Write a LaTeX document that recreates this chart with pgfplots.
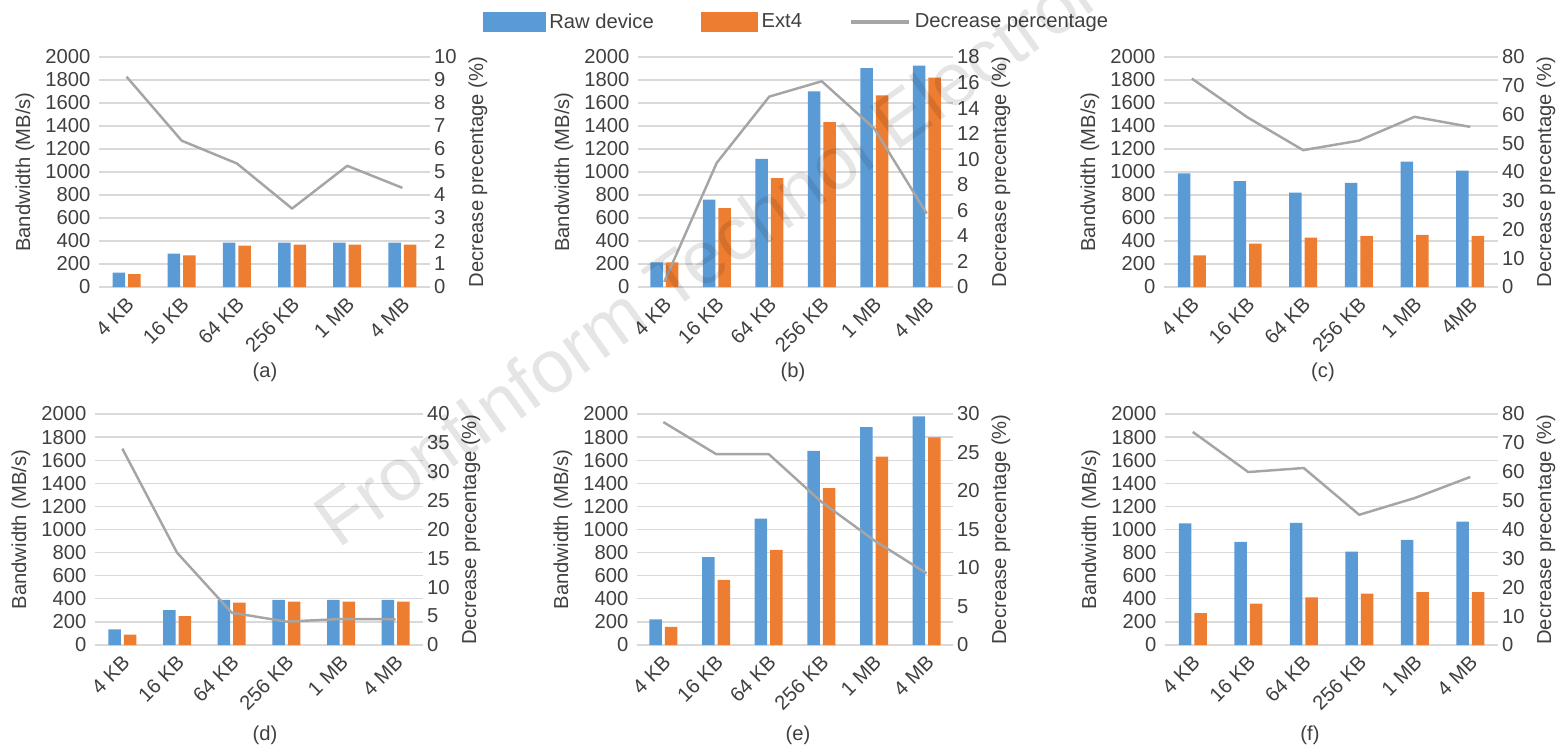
\documentclass[border=0pt]{standalone}
\usepackage{fontspec}
\setmainfont{Liberation Sans}
\usepackage{pgfplots}
\pgfplotsset{compat=1.18}
\usetikzlibrary{calc}
\definecolor{rawc}{HTML}{5B9BD5}
\definecolor{extc}{HTML}{ED7D31}
\definecolor{pctc}{HTML}{A5A5A5}
\definecolor{gridc}{HTML}{D9D9D9}
\definecolor{txtc}{HTML}{404040}
\newcommand{\fs}{\fontsize{11.5}{13.8}\selectfont}
\pgfplotsset{
 common/.style={scale only axis, xmin=-0.5, xmax=5.5, ymin=0,
   axis line style={draw=none}, major tick length=0pt,
   tick label style={font=\fs, text=txtc},
   /pgf/number format/assume math mode=true,
   /pgf/number format/1000 sep={},
   scaled y ticks=false, clip=false},
 leftax/.style={common, ymax=2000, ytick={0,200,...,2000},
   xtick={0,...,5}, ymajorgrids, grid style={gridc, line width=0.7pt},
   ylabel={Bandwidth (MB/s)},
   every axis y label/.style={at={($(axis description cs:0,0.5)+(-1.48cm,0)$)}, rotate=90, anchor=center, font=\fs, text=txtc},
   xticklabel style={xshift=0.16cm, yshift=-0.2cm, rotate=45, anchor=east},
   yticklabel style={xshift=-0.05cm}},
 rightax/.style={common, axis y line*=right, axis x line=none, xtick=\empty,
   ylabel={Decrease precentage (\%)},
   every axis y label/.style={at={($(axis description cs:1,0.5)+(0.96cm,0)$)}, rotate=90, anchor=center, font=\fs, text=txtc},
   yticklabel style={xshift=-0.04cm}},
 rawbar/.style={ybar, bar width=0.25cm, bar shift=-0.155cm, fill=rawc, draw=none},
 extbar/.style={ybar, bar width=0.25cm, bar shift=0.155cm, fill=extc, draw=none},
 pctline/.style={pctc, line width=1.4pt, mark=none, line join=round},
}
\begin{document}
\begin{tikzpicture}
\useasboundingbox (0,0) rectangle (31.32,15);
% (a)
\begin{axis}[leftax, at={(1.98cm,9.26cm)}, anchor=south west, width=6.62cm, height=4.6cm,
  xticklabels={4 KB,16 KB,64 KB,256 KB,1 MB,4 MB}]
\addplot[rawbar] coordinates {(0,125) (1,290) (2,386) (3,386) (4,386) (5,386)};
\addplot[extbar] coordinates {(0,113) (1,276) (2,360) (3,369) (4,369) (5,369)};
\end{axis}
\begin{axis}[rightax, at={(1.98cm,9.26cm)}, anchor=south west, width=6.62cm, height=4.6cm,
  ymax=10, ytick={0,1,...,10}]
\addplot[pctline] coordinates {(0,9.14) (1,6.36) (2,5.37) (3,3.41) (4,5.27) (5,4.31)};
\end{axis}
% (b)
\begin{axis}[leftax, at={(12.76cm,9.26cm)}, anchor=south west, width=6.30cm, height=4.6cm,
  xticklabels={4 KB,16 KB,64 KB,256 KB,1 MB,4 MB},
  legend columns=3,
  legend style={at={(axis description cs:0.506,1.152)}, anchor=center, draw=none, fill=none,
    font=\fs, text=txtc, /tikz/every even column/.append style={column sep=0.88cm}}]
\addlegendimage{legend image code/.code={\fill[rawc] (0cm,-0.19cm) rectangle (1.24cm,0.19cm);}}
\addlegendentry{Raw device}
\addlegendimage{legend image code/.code={\fill[extc] (0cm,-0.19cm) rectangle (1.12cm,0.19cm);}}
\addlegendentry{Ext4}
\addlegendimage{legend image code/.code={\draw[pctc, line width=2.2pt] (0cm,0cm) -- (1.16cm,0cm);}}
\addlegendentry{Decrease percentage}
\addplot[rawbar, forget plot] coordinates {(0,215) (1,760) (2,1115) (3,1701) (4,1904) (5,1924)};
\addplot[extbar, forget plot] coordinates {(0,215) (1,685) (2,946) (3,1434) (4,1666) (5,1820)};
\end{axis}
\begin{axis}[rightax, at={(12.76cm,9.26cm)}, anchor=south west, width=6.30cm, height=4.6cm,
  ymax=18, ytick={0,2,...,18}]
\addplot[pctline] coordinates {(0,0.4) (1,9.72) (2,14.9) (3,16.1) (4,12.4) (5,5.75)};
\end{axis}
% (c)
\begin{axis}[leftax, at={(23.28cm,9.26cm)}, anchor=south west, width=6.68cm, height=4.6cm,
  xticklabels={4 KB,16 KB,64 KB,256 KB,1 MB,4MB}]
\addplot[rawbar] coordinates {(0,987) (1,920) (2,821) (3,906) (4,1091) (5,1013)};
\addplot[extbar] coordinates {(0,276) (1,377) (2,430) (3,444) (4,453) (5,444)};
\end{axis}
\begin{axis}[rightax, at={(23.28cm,9.26cm)}, anchor=south west, width=6.68cm, height=4.6cm,
  ymax=80, ytick={0,10,...,80}]
\addplot[pctline] coordinates {(0,72.5) (1,59.0) (2,47.6) (3,50.9) (4,59.2) (5,55.7)};
\end{axis}
% (d)
\begin{axis}[leftax, at={(1.90cm,2.10cm)}, anchor=south west, width=6.56cm, height=4.62cm,
  xticklabels={4 KB,16 KB,64 KB,256 KB,1 MB,4 MB}]
\addplot[rawbar] coordinates {(0,136) (1,301) (2,390) (3,390) (4,390) (5,390)};
\addplot[extbar] coordinates {(0,90) (1,251) (2,367) (3,376) (4,376) (5,376)};
\end{axis}
\begin{axis}[rightax, at={(1.90cm,2.10cm)}, anchor=south west, width=6.56cm, height=4.62cm,
  ymax=40, ytick={0,5,...,40}]
\addplot[pctline] coordinates {(0,34.0) (1,16.0) (2,5.6) (3,4.05) (4,4.5) (5,4.45)};
\end{axis}
% (e)
\begin{axis}[leftax, at={(12.74cm,2.10cm)}, anchor=south west, width=6.32cm, height=4.62cm,
  xticklabels={4 KB,16 KB,64 KB,256 KB,1 MB,4 MB}]
\addplot[rawbar] coordinates {(0,221) (1,760) (2,1094) (3,1681) (4,1887) (5,1980)};
\addplot[extbar] coordinates {(0,157) (1,563) (2,824) (3,1358) (4,1631) (5,1797)};
\end{axis}
\begin{axis}[rightax, at={(12.74cm,2.10cm)}, anchor=south west, width=6.32cm, height=4.62cm,
  ymax=30, ytick={0,5,...,30}]
\addplot[pctline] coordinates {(0,28.95) (1,24.8) (2,24.8) (3,18.6) (4,13.6) (5,9.3)};
\end{axis}
% (f)
\begin{axis}[leftax, at={(23.30cm,2.10cm)}, anchor=south west, width=6.66cm, height=4.62cm,
  xticklabels={4 KB,16 KB,64 KB,256 KB,1 MB,4 MB}]
\addplot[rawbar] coordinates {(0,1052) (1,893) (2,1058) (3,809) (4,910) (5,1069)};
\addplot[extbar] coordinates {(0,275) (1,358) (2,413) (3,445) (4,457) (5,457)};
\end{axis}
\begin{axis}[rightax, at={(23.30cm,2.10cm)}, anchor=south west, width=6.66cm, height=4.62cm,
  ymax=80, ytick={0,10,...,80}]
\addplot[pctline] coordinates {(0,73.8) (1,59.9) (2,61.3) (3,45.1) (4,50.9) (5,58.2)};
\end{axis}
% captions
\node[font=\fs, text=txtc] at (5.30,7.56) {(a)};
\node[font=\fs, text=txtc] at (15.86,7.56) {(b)};
\node[font=\fs, text=txtc] at (26.46,7.56) {(c)};
\node[font=\fs, text=txtc] at (5.30,0.30) {(d)};
\node[font=\fs, text=txtc] at (15.96,0.30) {(e)};
\node[font=\fs, text=txtc] at (26.20,0.30) {(f)};
% watermark
\node[anchor=base west, rotate=35.5, font=\fontsize{42.5}{50}\selectfont, text=black, text opacity=0.10, inner sep=0pt] at (6.76,4.0) {FrontInform Technol Electron};
\end{tikzpicture}
\end{document}
